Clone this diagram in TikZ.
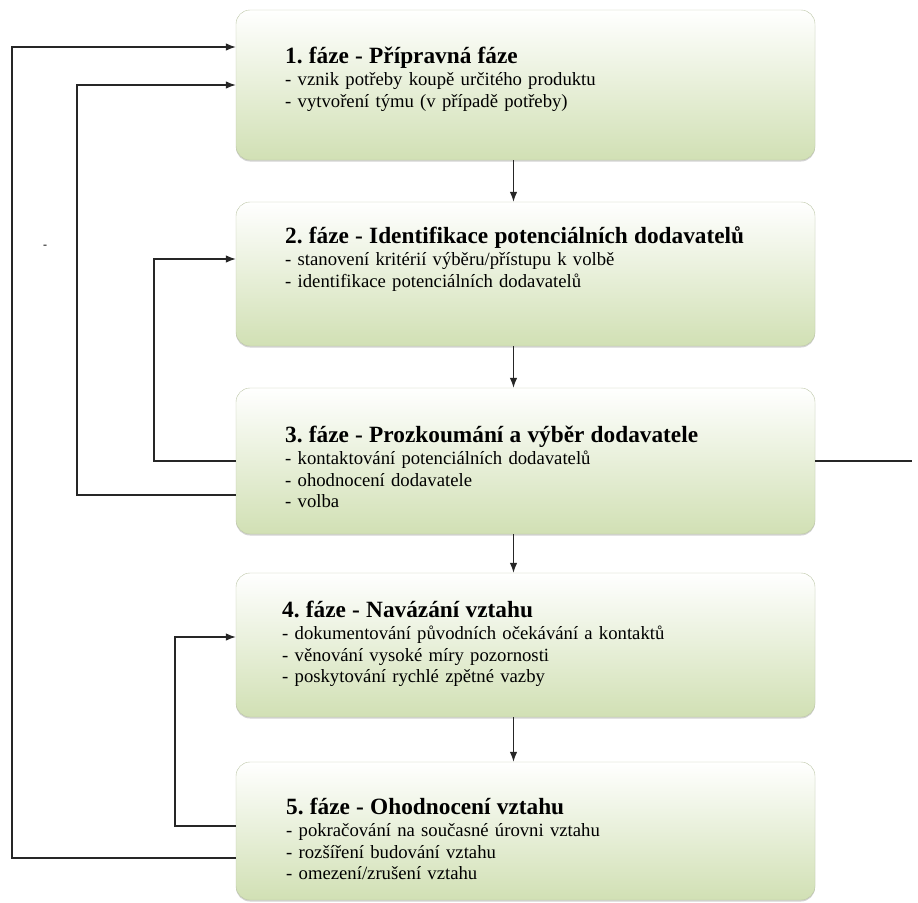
\documentclass[tikz,border=0pt]{standalone}
\usepackage{fontspec}
\setmainfont{Liberation Serif}
\usetikzlibrary{arrows.meta,shadows}
\frenchspacing

\definecolor{zelena}{RGB}{209,224,180}
\definecolor{okraj}{RGB}{188,198,166}
\newcommand{\nadpis}[1]{{\fontsize{23.3}{26}\selectfont\bfseries #1}}

\begin{document}
\begin{tikzpicture}[x=1pt, y=-1pt,
  faze/.style={draw=okraj, rounded corners=14pt, minimum width=579pt,
    top color=white, bottom color=zelena, middle color=zelena!50,
    drop shadow={shadow xshift=0pt, shadow yshift=-1.5pt, fill=black!50, opacity=0.35}},
  popis/.style={anchor=base west, align=left, text width=520pt, inner sep=0pt,
    font=\fontsize{18.7}{21.5}\selectfont},
  sipka/.style={-{Latex[length=10pt,width=7.5pt]}, line width=1.1pt, draw=black!85},
  cara/.style={line width=1.1pt, draw=black!85}]
\useasboundingbox (0,0) rectangle (918,902);

\node[name=f1, faze, minimum height=150pt] at (525.5,85) {};
\node[name=f2, faze, minimum height=144pt] at (525.5,274) {};
\node[name=f3, faze, minimum height=146pt] at (525.5,461) {};
\node[name=f4, faze, minimum height=144pt] at (525.5,645) {};
\node[name=f5, faze, minimum height=138pt] at (525.5,831) {};

\node[name=t1, popis] at (285,63) {\nadpis{1. fáze - Přípravná fáze}\\[1pt]
  - vznik potřeby koupě určitého produktu\\
  - vytvoření týmu (v případě potřeby)};
\node[name=t2, popis] at (285,243) {\nadpis{2. fáze - Identifikace potenciálních dodavatelů}\\[1pt]
  - stanovení kritérií výběru/přístupu k volbě\\
  - identifikace potenciálních dodavatelů};
\node[name=t3, popis] at (285,442) {\nadpis{3. fáze - Prozkoumání a výběr dodavatele}\\[1pt]
  - kontaktování potenciálních dodavatelů\\
  - ohodnocení dodavatele\\
  - volba};
\node[name=t4, popis] at (282,617) {\nadpis{4. fáze - Navázání vztahu}\\[1pt]
  - dokumentování původních očekávání a kontaktů\\
  - věnování vysoké míry pozornosti\\
  - poskytování rychlé zpětné vazby};
\node[name=t5, popis] at (286,814) {\nadpis{5. fáze - Ohodnocení vztahu}\\[1pt]
  - pokračování na současné úrovni vztahu\\
  - rozšíření budování vztahu\\
  - omezení/zrušení vztahu};

\node[name=pomlcka, font=\fontsize{12}{12}\selectfont] at (45,247) {-};

% sipky dolu
\draw[sipka] ([xshift=-12pt]f1.south) -- ([xshift=-12pt]f2.north);
\draw[sipka] ([xshift=-12pt]f2.south) -- ([xshift=-12pt]f3.north);
\draw[sipka] ([xshift=-12pt]f3.south) -- ([xshift=-12pt]f4.north);
\draw[sipka] ([xshift=-12pt]f4.south) -- ([xshift=-12pt]f5.north);

% zpetne vazby
\coordinate (v1) at (12,858);
\coordinate (v2) at (77,495);
\coordinate (v3) at (154,461);
\coordinate (v4) at (175,826);
\coordinate (vpravo) at (912,461);
\draw[sipka] ([yshift=-27pt]f5.west) -| (v1) |- ([yshift=38pt]f1.west);
\draw[sipka] ([yshift=-34pt]f3.west) -| (v2) |- (f1.west);
\draw[sipka] (f3.west) -| (v3) |- ([yshift=15pt]f2.west);
\draw[sipka] ([yshift=5pt]f5.west) -| (v4) |- ([yshift=8pt]f4.west);
\draw[cara] (f3.east) -- (vpravo);
\end{tikzpicture}
\end{document}
